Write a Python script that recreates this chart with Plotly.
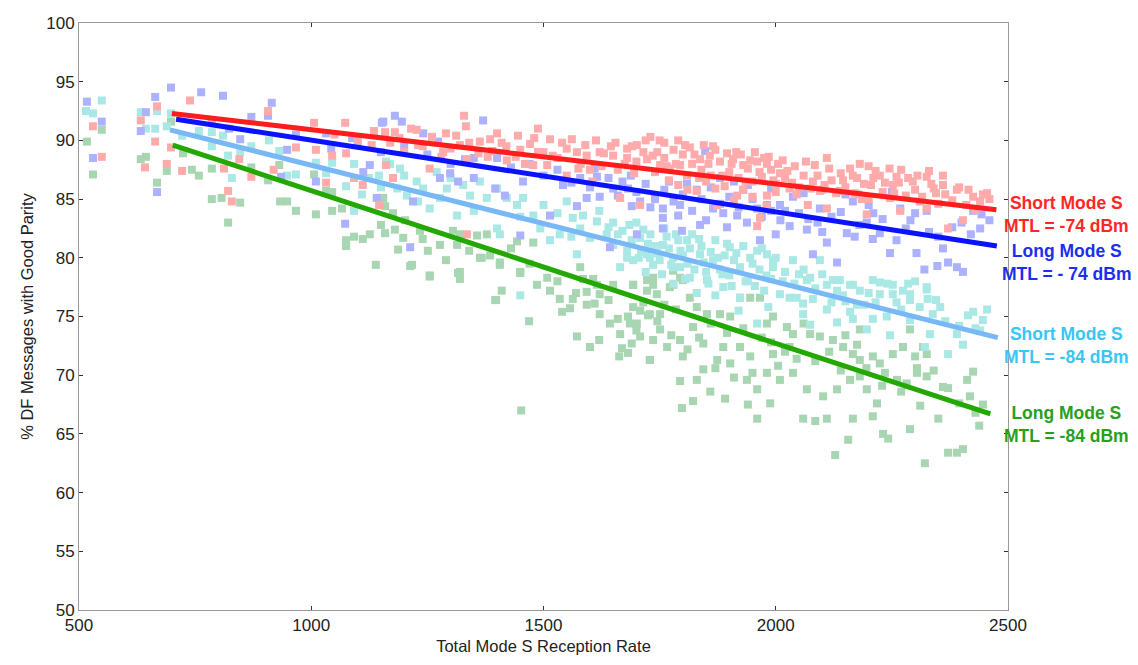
import plotly.graph_objects as go

# ---------------- data ----------------
red_x = [530,549,633,668,664,642,689,698,739,722,786,812,821,829,845,871,907,919,967,1006,1010,1032,1045,1073,1075,1092,1111,1135,1146,1161,
         1329,1333,1312,1215,1227,1180,1159,1284,1363,1385,1400,1445,1488,1514,1561,1613,1471,1478,1508,1421,1335,1255,1176,1572,1593,1621,1650,1680,1701,1723,1751,1772,1794,1665,1708,1605,1550,1335,
         1837,1858,1908,1930,1960,1981,2009,2041,2084,2181,2166,2224,2252,2295,2325,2390,2425,2446,2403,2371,2325,2268,2196,2110,2069,2030,1981,1966,1960,1917,1874,1830,1809,2246,2138,2095,
         1690,1720,1745,1760,1780,1800,1820,1840,1860,1880,1900,1920,1940,1950,1970,1990,2000,2020,2050,2060,2080,2100,2120,2140,2150,2170,2190,2200,2210,2230,2260,2280,2300,2310,2340,2350,2360,2380,2410,2430,2460,
         1700,1740,1770,1790,1810,1850,1870,1890,1910,1930,1950,1980,2000,
         1050,1100,1130,1170,1200,1240,1260,1280,1300,1340,1360,1390,1420,1440,1460,1500,1530,1550,1580,1600,1630,1660,1680,
         1730,1760,1790,1815,1845,1870,1895,1925,1955,1985,2015,2110,2200,2270,2330,2360,2177,1488,
         1655,1675,1695,1715,1735,1750,1765,1785,1805,1825,1835,1855,1865,1885,1905,1915,1935,1945,1965,1975,1995,2005,2025,2035,2045,2065,2075,2090,2105,2115,2130,2145,2160,2175,2185,2205,2215,2235,2245,2255,2265,2285,2305,2315,2335,2345,2365,2395,2415,2440,2455,
         1625,1645,1590,1575,1540,1520,1480,1450,1410,1380,1320,1290,1230,1190]
red_y = [91.2,88.6,91.7,92.9,89.9,87.7,88.0,89.4,93.4,87.4,91.6,87.6,85.7,84.8,88.4,86.9,92.5,87.5,89.4,91.5,89.2,86.4,88.7,91.5,88.9,86.8,86.2,90.8,84.5,87.9,
         92.1,91.2,90.4,91.0,90.9,90.7,90.7,89.0,89.9,90.1,90.6,90.4,91.0,90.1,90.1,90.0,89.7,87.9,87.9,88.3,88.4,87.6,86.8,89.0,88.7,89.0,88.7,89.3,89.6,88.4,87.9,87.6,87.9,85.1,84.5,86.5,87.0,82.0,
         88.4,88.7,88.4,87.9,88.2,88.0,87.2,87.8,87.9,88.0,87.0,87.0,86.2,86.5,86.9,85.8,85.2,85.4,83.2,82.5,84.2,84.0,83.7,84.2,84.5,85.9,85.3,83.4,82.7,85.3,84.5,85.7,87.0,85.1,85.7,85.7,
         89.5,90.0,89.0,88.5,89.2,88.8,88.0,87.5,87.0,88.2,87.3,86.8,87.6,86.5,86.9,87.5,86.3,86.8,86.0,87.0,86.5,85.8,86.6,87.2,86.0,85.5,86.3,85.0,86.8,85.6,86.9,85.3,85.8,84.8,85.9,84.6,86.2,84.9,84.5,84.1,85.0,
         88.2,87.3,86.6,86.2,85.8,86.5,85.9,86.1,84.9,85.8,85.2,84.4,85.6,
         90.5,90.0,89.6,89.8,89.0,89.5,90.3,88.6,89.3,89.8,88.9,89.1,89.5,88.6,88.0,89.0,88.5,89.3,88.0,87.5,88.9,87.5,88.5,
         90.3,89.8,90.0,89.4,89.6,89.2,88.9,88.8,89.0,88.6,88.3,88.5,87.8,87.5,87.4,87.0,85.4,89.0,
         89.8,88.0,87.2,89.0,88.7,90.0,87.8,88.0,89.6,88.8,86.8,88.0,89.5,87.0,88.0,89.0,86.5,88.3,87.3,88.5,86.6,88.0,87.4,86.4,85.4,88.2,85.9,87.0,86.2,87.6,85.5,86.6,87.6,86.8,85.0,86.2,87.4,86.4,87.6,85.5,86.4,86.8,87.0,85.2,86.3,85.5,85.4,86.0,85.8,84.8,85.5,
         87.8,89.5,89.6,87.6,89.8,88.7,90.2,89.2,89.8,88.6,89.6,90.6,89.6,90.2]

blue_x = [517,549,530,644,633,664,668,698,763,810,915,907,847,823,871,948,967,1010,1032,1043,1088,1112,1152,1073,1126,1141,935,
          1180,1155,1195,1241,1273,1370,1331,1277,1299,1219,1213,1316,1396,1417,1456,1514,1450,1572,1593,1621,1579,1615,1650,1682,1708,1757,1794,1757,1757,1701,1643,1798,1688,1542,
          1848,1809,1837,1865,1887,1938,1966,2009,2030,2067,2110,2153,2166,2196,2209,2224,2246,2303,2320,2348,2371,2390,2403,2425,2443,2080,2132,2095,2037,1981,1917,2268,2325,
          1400,1430,1470,1500,1530,1560,1600,1640,1660,1700,1720,1740,1760,1780,1800,1820,1840,1860,1880,1900,1920,1950,1970,1990,2010,2050,2090,2120,2180,2230,2280,2350,2380,2420,2460,1250,1300,1350,1200,1150,1100,1350,
          1880,1910,1940,1990,2060,2150,2200,2250,2300,2400,
          1610,1670,1690,1730,1770,1790,1830,1850,1895,1930,1960,2000,2020,2070,2100,2140,2170,2210,2260,2290,2330,2360,2440]
blue_y = [93.3,91.6,88.5,92.4,90.8,93.7,85.6,94.5,94.1,93.8,93.2,92.1,90.1,91.0,92.0,89.2,90.5,86.5,90.6,89.3,90.2,87.3,91.5,82.9,87.9,85.1,86.9,
          92.1,91.6,91.6,90.6,89.9,91.7,88.4,86.8,87.2,84.8,80.9,86.5,85.9,85.3,86.5,83.6,81.9,84.4,85.1,85.2,86.8,86.9,85.9,85.9,84.8,84.2,84.5,83.4,82.5,82.0,80.9,82.3,87.0,86.2,
          89.1,86.3,82.8,84.2,83.8,83.0,81.5,84.5,82.7,82.4,81.3,82.1,84.8,83.0,81.6,82.1,80.4,80.4,79.0,79.3,79.6,79.2,78.8,84.0,83.7,80.3,79.6,84.2,85.2,84.5,83.6,84.2,84.0,
          88.5,87.7,88.0,87.0,87.5,86.4,86.0,86.8,85.3,85.6,86.3,85.0,85.8,84.8,85.4,84.0,85.0,86.0,84.6,85.2,84.3,85.0,83.5,84.0,83.2,83.8,83.0,83.5,82.8,83.3,82.5,81.8,82.6,82.0,83.2,88.8,88.0,88.5,89.5,89.0,89.8,86.8,
          86.8,86.5,86.2,85.9,85.5,85.4,84.5,85.6,83.8,83.0,
          87.6,86.5,84.4,84.3,86.5,83.6,85.8,83.2,82.6,85.8,84.2,82.0,84.0,83.3,82.2,83.9,81.8,83.8,81.5,83.2,82.2,80.8,82.5]

cyan_x = [515,530,549,633,644,664,668,689,698,722,758,786,810,786,821,829,847,871,909,931,948,967,1010,1032,1045,1075,1092,1109,1092,1124,1150,1161,1146,
          1170,1191,1185,1206,1227,1241,1255,1277,1292,1314,1327,1342,1363,1378,1400,1400,1406,1421,1443,1456,1478,1493,1514,1535,1563,1579,1600,1615,1636,1650,1680,1693,1708,1723,1736,1757,1779,1794,1665,1572,1585,1450,
          1729,1779,1815,1852,1887,1923,1945,1981,1994,2009,2045,2059,2074,2110,2132,2138,2166,2181,2209,2224,2252,2274,2289,2325,2327,2338,2110,2132,2160,2166,2209,2239,2246,2196,2074,2059,1960,1984,2321,2371,2390,2403,2414,2425,2446,2440,2354,2289,2332,
          1809,1837,1865,1901,1923,1960,1994,2037,2095,2067,2123,2160,2224,2252,2289,2325,
          1650,1670,1690,1700,1710,1730,1740,1750,1760,1770,1790,1800,1810,1820,1840,1850,1860,1870,1880,1890,1900,1910,1930,1940,1950,1970,1980,2000,2020,2040,2060,2080,2100,2150,2190,2240,2270,2300,
          1620,1640,1680,1720,1780,1830,1870,1920,1500,1530,1550,1560,1450,1350,1300,1230,1270,1200,
          1660,1685,1705,1715,1725,1745,1755,1765,1775,1785,1795,1805,1815,1825,1835,1845,1855,1875,1885,1895,1905,1915,1935,1955,1965,1975,1990,2015,2030,2050,2085,2120,2145,2175,2200,2215,2260,2285,2310,2345,2365,2395,2430,2455]
cyan_y = [92.5,92.3,93.4,92.4,91.0,91.0,92.5,91.2,92.3,90.4,90.8,90.7,90.4,89.5,88.7,86.8,89.0,89.5,90.0,89.1,87.0,87.1,88.1,87.2,88.1,86.1,88.0,85.4,84.0,86.8,86.0,88.2,87.0,
          88.0,87.6,85.9,85.3,86.5,85.9,84.2,85.1,85.9,83.6,86.2,85.3,86.5,85.1,85.9,82.5,82.0,85.1,84.5,85.1,83.6,82.5,81.5,82.0,83.4,82.5,81.7,83.1,82.0,81.1,80.6,79.8,81.7,80.3,79.4,81.1,80.0,79.2,79.2,80.3,83.6,76.8,
          80.0,79.2,78.3,78.1,77.5,76.6,80.0,80.3,79.2,76.9,76.6,75.2,78.3,77.7,77.2,78.1,77.7,77.2,78.1,76.9,76.9,77.2,76.4,77.5,76.5,75.2,75.6,74.5,75.4,74.8,74.8,75.0,73.4,73.9,74.3,76.1,74.4,75.8,72.4,71.8,73.5,72.6,75.1,75.4,74.7,73.8,75.8,74.7,73.5,
          81.5,80.3,79.8,80.9,79.2,80.6,79.8,79.8,79.8,78.1,78.1,77.7,77.9,77.7,76.9,77.3,
          83.0,82.3,81.5,83.0,80.5,82.0,81.0,79.8,82.5,80.8,81.5,80.2,79.5,82.0,81.0,78.8,80.5,81.5,79.0,80.2,78.5,79.8,81.0,78.0,79.5,80.8,78.5,80.0,78.8,77.8,79.0,76.5,78.6,76.3,76.0,77.8,75.6,78.0,
          84.0,82.6,80.0,78.8,77.8,77.0,76.8,75.5,84.5,83.8,84.8,81.8,83.5,84.0,86.8,84.8,87.3,87.0,
          82.0,82.8,80.0,82.4,81.2,80.4,78.6,81.8,79.4,82.0,80.6,78.2,80.8,79.0,81.6,79.6,77.8,80.0,78.6,81.2,77.6,80.4,78.0,77.6,79.0,77.2,78.2,78.0,76.6,78.6,77.4,76.2,76.8,76.0,77.0,76.2,76.2,77.8,75.8,76.4,74.6,74.2,74.0,75.6]

green_x = [517,530,549,633,644,668,689,698,724,743,758,786,786,807,821,847,871,907,933,948,967,1006,1010,1045,1066,1075,1075,1092,1111,1126,1139,1150,1159,1152,1032,1045,931,
           1155,1159,1176,1202,1234,1198,1187,1217,1255,1251,1277,1305,1314,1320,1320,1357,1378,1363,1385,1406,1410,1396,1443,1450,1478,1486,1508,1535,1563,1593,1621,1579,1607,1650,1693,1723,1744,1772,1794,1320,
           1213,1255,1316,1367,1406,1450,1398,1469,1452,1514,1540,1557,1572,1593,1600,1610,1621,1643,1660,1665,1682,1686,1701,1669,1663,1682,1690,1708,1729,1725,1736,1693,1708,1615,1585,1693,1736,
           1729,1751,1766,1729,1794,1800,1794,1798,1822,1830,1844,1859,1874,1891,1902,1923,1945,1938,1960,1940,1960,1988,1981,2009,2037,2067,2059,2085,2110,2102,2132,2128,2156,2166,2160,2181,2196,2209,2218,2231,2242,2229,2261,2289,2304,2311,2321,2325,2350,2371,2371,2390,2403,2412,2425,2418,2446,2438,2325,2304,2282,
           1779,1800,1830,1852,1880,1902,1923,1945,1966,1981,1994,2024,2037,2074,2095,2123,2145,2166,2181,2209,2224,2252,2274,2289,2181,2030,1994,1887,1844,1822,1751,1723,1779,1736,2317,
           1700,1715,1745,1760,1775,1785,1810,1815,1835,1860,1870,1895,1910,1930,1950,1970,1990,2005,2020,2045,2060,2085,2115,2140,2150,2175,2195,2235,2270,2300,2340,2360,2395,2430,1620,1640,1570,1530,1470,1430,1340,1290,1240,1180]
green_y = [89.9,87.1,90.9,88.4,88.6,86.4,87.4,91.6,88.9,87.5,87.0,87.6,85.0,85.1,83.0,84.7,87.7,86.6,84.8,84.8,84.0,87.1,83.7,84.0,84.2,81.5,81.0,81.8,81.6,82.0,79.4,82.8,82.1,85.1,85.7,85.6,87.9,
           85.1,84.4,83.8,83.2,82.3,81.7,80.7,79.4,78.5,80.6,81.1,82.3,81.1,78.8,78.2,81.9,82.0,80.0,80.2,79.4,77.2,76.4,81.4,78.8,81.3,77.7,78.3,76.5,76.5,77.1,76.9,79.2,78.2,77.7,77.7,78.1,76.9,77.5,78.3,82.0,
           79.3,78.4,78.7,80.0,79.6,78.7,76.4,74.6,67.0,77.2,75.4,75.7,73.3,76.0,72.4,76.1,75.2,74.4,74.8,73.5,75.0,74.4,74.4,72.3,71.6,71.9,72.7,73.3,71.3,75.1,73.0,75.8,75.5,77.7,78.2,77.7,77.7,
           75.2,73.9,72.4,71.3,73.0,71.6,69.5,67.2,67.8,69.6,70.5,68.6,71.3,68.0,71.0,72.4,71.6,69.6,68.8,67.5,66.3,67.6,70.2,69.6,70.2,68.8,66.3,66.1,66.3,68.2,68.8,63.2,64.5,66.3,69.6,69.9,68.8,66.5,67.6,65.0,64.6,69.1,69.6,65.4,70.2,67.4,62.5,69.9,66.3,68.9,63.4,63.4,63.7,69.6,70.3,68.2,67.5,65.7,71.8,70.6,69.3,
           77.7,78.1,75.8,75.2,75.2,75.0,76.6,76.6,76.6,74.4,75.0,74.1,73.5,73.5,73.3,73.0,72.4,71.8,71.3,71.6,71.0,71.8,72.4,73.9,73.9,72.4,71.8,72.4,72.7,74.1,75.2,77.2,78.9,78.3,72.4,
           73.8,76.2,74.6,76.0,73.4,75.6,72.2,76.6,73.2,74.4,70.6,73.6,69.8,74.0,70.2,73.2,72.8,70.8,72.0,71.4,74.4,71.2,72.0,70.4,73.4,72.6,70.6,70.2,68.6,71.6,70.4,69.0,67.6,66.8,73.0,76.4,77.0,78.0,79.5,80.8,80.6,79.8,81.6,82.4]

# trend line end points (x, y)
red_fit_x = [700, 2475];   red_fit_y = [92.3, 84.1]
blue_fit_x = [709, 2476];  blue_fit_y = [91.8, 81.0]
sky_fit_x = [696, 2478];   sky_fit_y = [90.9, 73.2]
green_fit_x = [702, 2462]; green_fit_y = [89.6, 66.7]

labels = ["Short Mode S<br>MTL = -74 dBm", "Long Mode S<br>MTL = - 74 dBm",
          "Short Mode S<br>MTL = -84 dBm", "Long Mode S<br>MTL = -84 dBm"]
label_y = [83.7, 79.6, 72.5, 65.8]
label_colors = ["#ff2626", "#1a30ee", "#38c6f4", "#27a01e"]

x_ticks = [500, 1000, 1500, 2000, 2500]
y_ticks = [50, 55, 60, 65, 70, 75, 80, 85, 90, 95, 100]

# ---------------- figure ----------------
fig = go.Figure()
msize = 8
for xs, ys, col in [(green_x, green_y, "#a9d6b2"), (cyan_x, cyan_y, "#aae8e6"),
                    (blue_x, blue_y, "#acb2ff"), (red_x, red_y, "#ffabab")]:
    fig.add_trace(go.Scatter(x=xs, y=ys, mode="markers",
                             marker=dict(symbol="square", size=msize, color=col, line=dict(width=0)),
                             hoverinfo="skip", showlegend=False))

for xs, ys, col in [(red_fit_x, red_fit_y, "#ff1c1c"), (blue_fit_x, blue_fit_y, "#0a12ff"),
                    (sky_fit_x, sky_fit_y, "#78b8f6"), (green_fit_x, green_fit_y, "#22a800")]:
    fig.add_trace(go.Scatter(x=xs, y=ys, mode="lines", line=dict(color=col, width=5),
                             hoverinfo="skip", showlegend=False))

for txt, yy, col in zip(labels, label_y, label_colors):
    fig.add_annotation(x=1.0635, xref="paper", y=yy, yref="y", text="<b>" + txt + "</b>",
                       showarrow=False, xanchor="center", yanchor="middle", align="center",
                       font=dict(family="Liberation Sans, Arial, sans-serif", size=17.5, color=col))

axis_common = dict(showgrid=False, zeroline=False, showline=True, linecolor="#9a9a9a", linewidth=1,
                   mirror="allticks", ticks="inside", ticklen=4, tickcolor="#333333", tickwidth=1,
                   tickfont=dict(family="Liberation Sans, Arial, sans-serif", size=17, color="#222222"))

fig.update_xaxes(range=[500, 2500], tickvals=x_ticks, ticktext=[str(v) for v in x_ticks],
                 title=dict(text="Total Mode S Reception Rate", standoff=6,
                            font=dict(family="Liberation Sans, Arial, sans-serif", size=16.5, color="#222222")),
                 **axis_common)
fig.update_yaxes(range=[50, 100], tickvals=y_ticks, ticktext=[str(v) for v in y_ticks],
                 title=dict(text="% DF Messages with Good Parity", standoff=8,
                            font=dict(family="Liberation Sans, Arial, sans-serif", size=16.5, color="#222222")),
                 **axis_common)

fig.update_layout(width=1138, height=665, margin=dict(l=79, r=130, t=23, b=49),
                  plot_bgcolor="white", paper_bgcolor="white")

fig.write_html("out.html")
